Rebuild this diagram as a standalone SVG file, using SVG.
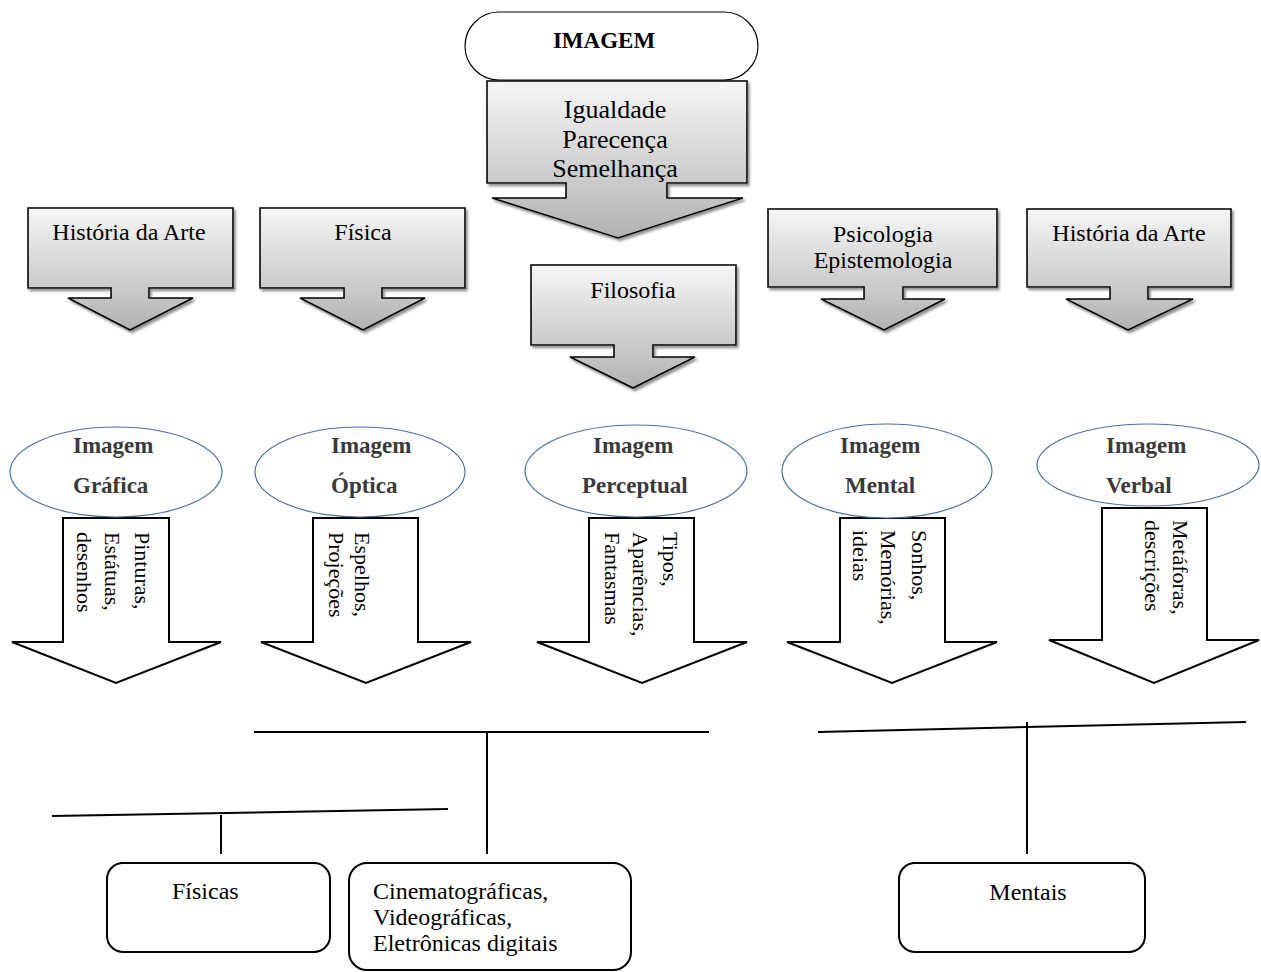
<svg xmlns="http://www.w3.org/2000/svg" width="1261" height="972" viewBox="0 0 1261 972">
<defs>
<linearGradient id="g" x1="0" y1="0" x2="0" y2="1">
<stop offset="0" stop-color="#f6f6f6"/>
<stop offset="1" stop-color="#b2b2b2"/>
</linearGradient>
<filter id="sh" x="-10%" y="-10%" width="125%" height="130%">
<feDropShadow dx="2" dy="2.5" stdDeviation="1.2" flood-color="#777" flood-opacity="0.8"/>
</filter>
</defs>
<style>
.gray{fill:url(#g);stroke:#000;stroke-width:1.6;filter:url(#sh)}
.white{fill:#fff;stroke:#000;stroke-width:2}
.ell{fill:#fff;stroke:#4a6fa5;stroke-width:1.2}
.t{font-family:"Liberation Serif","Times New Roman",serif;fill:#000}
.c{text-anchor:middle}
.b{font-weight:bold;font-size:23px;fill:#3a3a3a}
.m{font-size:24px}
.v{font-size:22px}
.rb{fill:#fff;stroke:#000;stroke-width:2}
.ln{stroke:#000;stroke-width:2;fill:none}
</style>

<g id="imagem">
<rect x="465" y="12" width="293" height="68" rx="34" ry="34" fill="#fff" stroke="#000" stroke-width="1.2"/>
<text class="t c" x="604" y="48" font-size="23" font-weight="bold">IMAGEM</text>
</g>

<g id="igualdade">
<path class="gray" d="M487,81 H747 V183 H667 V198 H743 L618,238 L492,198 H566 V183 H487 Z"/>
<text class="t c" font-size="26" x="615" y="118">Igualdade</text>
<text class="t c" font-size="26" x="615" y="148">Parecença</text>
<text class="t c" font-size="26" x="615" y="177">Semelhança</text>
</g>

<g id="historia1">
<path class="gray" d="M28,208 H233 V288 H149 V298 H193 L130,330 L68,298 H111 V288 H28 Z"/>
<text class="t c m" x="129" y="240">História da Arte</text>
</g>

<g id="fisica">
<path class="gray" d="M260,208 H465 V288 H382 V298 H425 L363,330 L300,298 H344 V288 H260 Z"/>
<text class="t c m" x="363" y="240">Física</text>
</g>

<g id="filosofia">
<path class="gray" d="M531,265 H736 V345 H653 V357 H695 L633,388 L570,357 H614 V345 H531 Z"/>
<text class="t c m" x="633" y="298">Filosofia</text>
</g>

<g id="psicologia">
<path class="gray" d="M768,209 H997 V287 H903 V299 H945 L884,330 L821,299 H864 V287 H768 Z"/>
<text class="t c m" x="883" y="242">Psicologia</text>
<text class="t c m" x="883" y="268">Epistemologia</text>
</g>

<g id="historia2">
<path class="gray" d="M1027,209 H1231 V287 H1148 V299 H1193 L1128,330 L1066,299 H1110 V287 H1027 Z"/>
<text class="t c m" x="1129" y="241">História da Arte</text>
</g>

<g id="grafica">
<path class="white" d="M63,518 H169 V642 H221 L116,683 L12,642 H63 Z"/>
<ellipse class="ell" cx="116" cy="472" rx="106" ry="45"/>
<text class="t b" x="73" y="453">Imagem</text>
<text class="t b" x="73" y="493">Gráfica</text>
<text class="t v" transform="translate(134.5,532) rotate(90)"><tspan x="0" y="0">Pinturas,</tspan><tspan x="0" y="29.5">Estátuas,</tspan><tspan x="0" y="57.5">desenhos</tspan></text>
</g>

<g id="optica">
<path class="white" d="M313,518 H418 V642 H471 L366,683 L261,642 H313 Z"/>
<ellipse class="ell" cx="360" cy="472" rx="105" ry="45"/>
<text class="t b" x="331" y="453">Imagem</text>
<text class="t b" x="331" y="493">Óptica</text>
<text class="t v" transform="translate(355,532) rotate(90)"><tspan x="0" y="0">Espelhos,</tspan><tspan x="0" y="26">Projeções</tspan></text>
</g>

<g id="perceptual">
<path class="white" d="M589,518 H694 V642 H747 L642,683 L537,642 H589 Z"/>
<ellipse class="ell" cx="636" cy="471" rx="111" ry="46"/>
<text class="t b" x="593" y="453">Imagem</text>
<text class="t b" x="582" y="493">Perceptual</text>
<text class="t v" transform="translate(663,532) rotate(90)"><tspan x="0" y="0">Tipos,</tspan><tspan x="0" y="30">Aparências,</tspan><tspan x="0" y="58">Fantasmas</tspan></text>
</g>

<g id="mental">
<path class="white" d="M840,518 H945 V642 H997 L892,683 L787,642 H840 Z"/>
<ellipse class="ell" cx="887" cy="471" rx="105" ry="47"/>
<text class="t b" x="840" y="453">Imagem</text>
<text class="t b" x="845" y="493">Mental</text>
<text class="t v" transform="translate(912,530) rotate(90)"><tspan x="0" y="0">Sonhos,</tspan><tspan x="0" y="31">Memórias,</tspan><tspan x="0" y="59">ideias</tspan></text>
</g>

<g id="verbal">
<path class="white" d="M1102,508 H1207 V640 H1259 L1154,683 L1049,640 H1102 Z"/>
<ellipse class="ell" cx="1148" cy="465" rx="111" ry="41"/>
<text class="t b" x="1106" y="453">Imagem</text>
<text class="t b" x="1106" y="493">Verbal</text>
<text class="t v" transform="translate(1173,520) rotate(90)"><tspan x="0" y="0">Metáforas,</tspan><tspan x="0" y="28">descrições</tspan></text>
</g>

<g id="connectors">
<line class="ln" x1="254" y1="732" x2="709" y2="732"/>
<line class="ln" x1="487" y1="732" x2="487" y2="854"/>
<line class="ln" x1="52" y1="816" x2="448" y2="809"/>
<line class="ln" x1="221" y1="815" x2="221" y2="854"/>
<line class="ln" x1="818" y1="732" x2="1246" y2="722"/>
<line class="ln" x1="1027" y1="722" x2="1027" y2="854"/>
</g>

<g id="fisicas">
<rect class="rb" x="107" y="863" width="223" height="89" rx="16" ry="16"/>
<text class="t m" x="172" y="899">Físicas</text>
</g>

<g id="cinematograficas">
<rect class="rb" x="349" y="863" width="282" height="107" rx="18" ry="18"/>
<text class="t m" x="373" y="899">Cinematográficas,</text>
<text class="t m" x="373" y="925">Videográficas,</text>
<text class="t m" x="373" y="951">Eletrônicas digitais</text>
</g>

<g id="mentais">
<rect class="rb" x="899" y="863" width="246" height="89" rx="16" ry="16"/>
<text class="t c m" x="1028" y="900">Mentais</text>
</g>
</svg>
